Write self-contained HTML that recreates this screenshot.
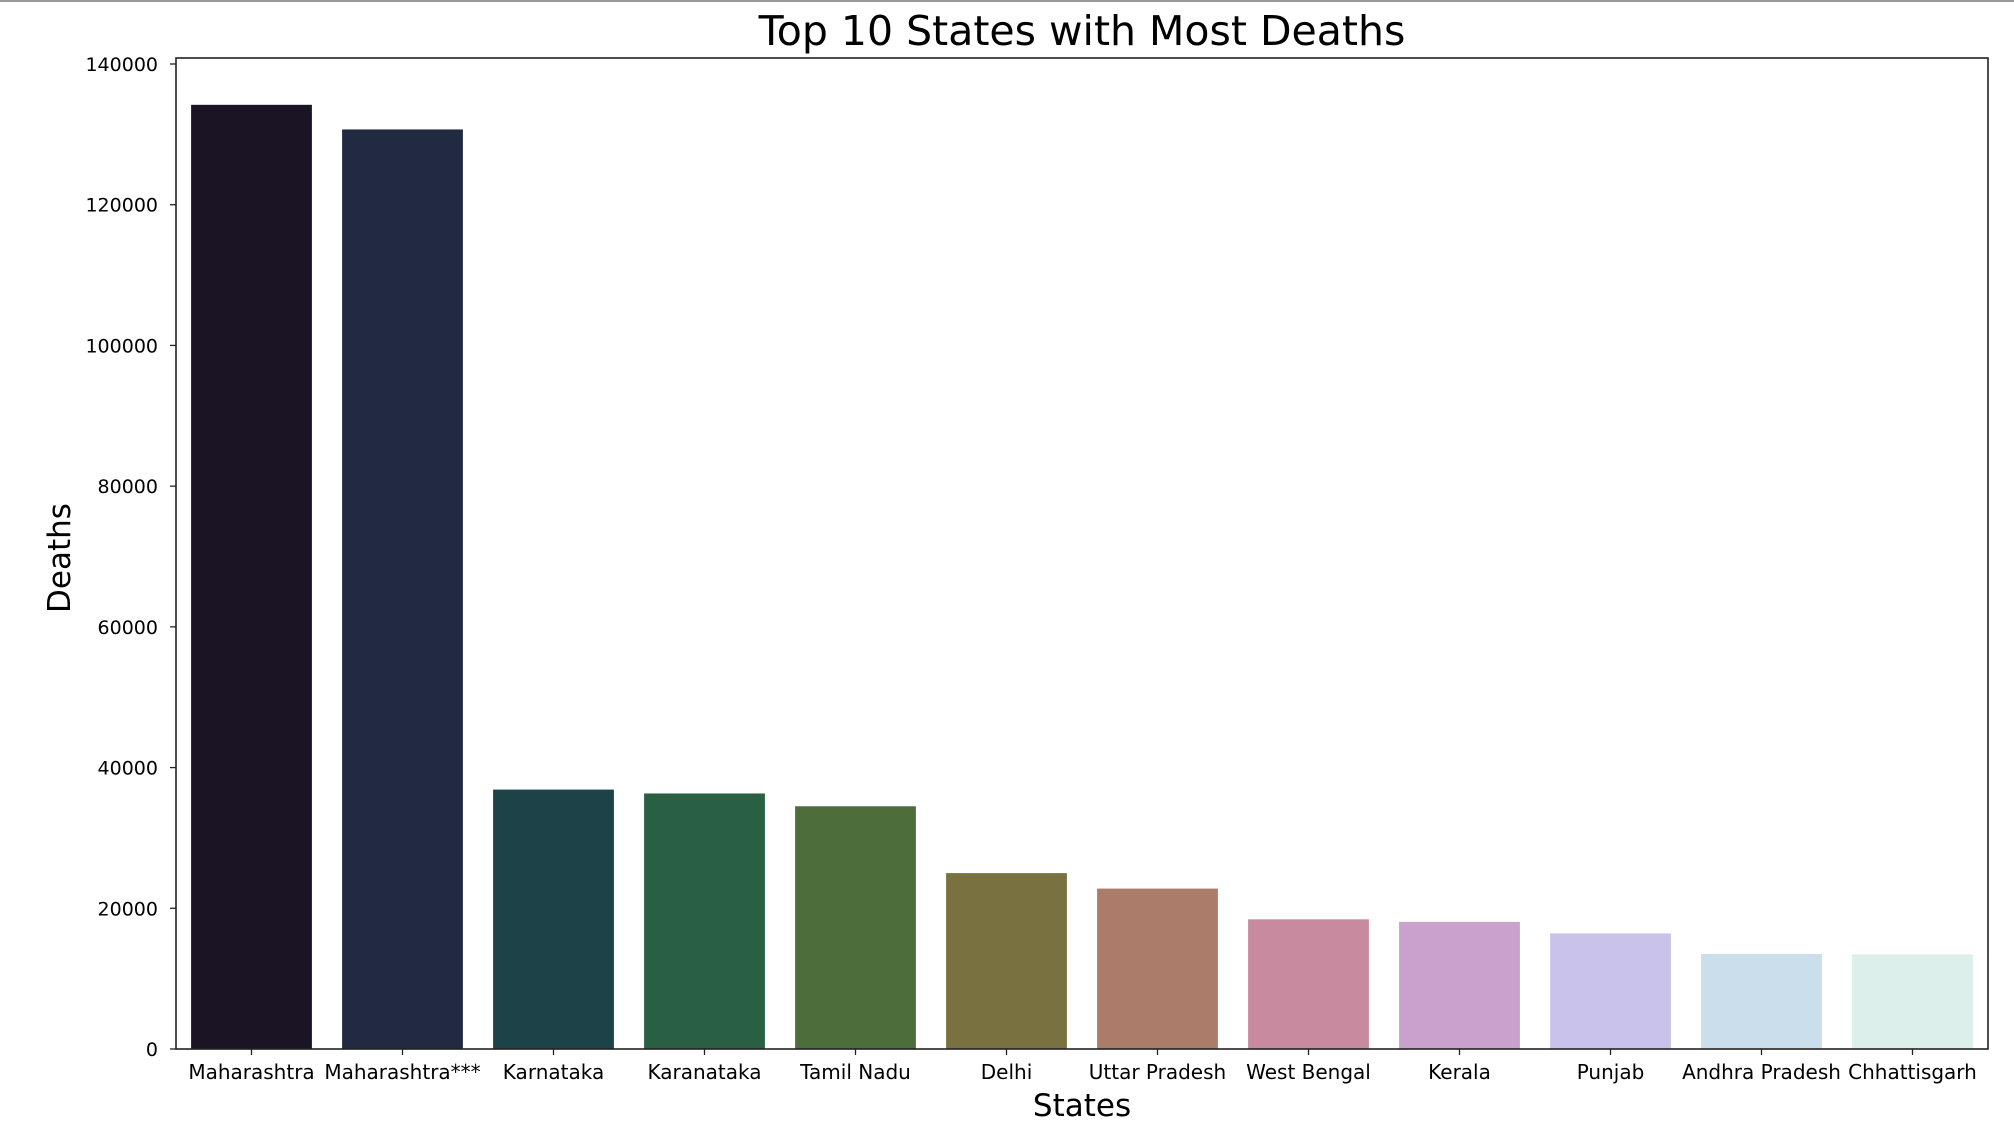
<!DOCTYPE html>
<html><head><meta charset="utf-8"><style>
html,body{margin:0;padding:0;background:#fff;}
svg text{font-family:"DejaVu Sans","Liberation Sans",sans-serif;fill:#000;}
</style></head><body>
<svg id="chart" width="2014" height="1142" viewBox="0 0 2014 1142" xmlns="http://www.w3.org/2000/svg">
<rect x="0" y="0" width="2014" height="2" fill="#999"/>
<text x="1082" y="45" font-size="41" text-anchor="middle">Top 10 States with Most Deaths</text>
<g id="bars"></g>
<g id="yaxis"></g>
<g id="xaxis"></g>
<rect x="176" y="58" width="1812" height="991" fill="none" stroke="#222" stroke-width="1.6"/>
<text x="1082" y="1116" font-size="31" text-anchor="middle">States</text>
<text x="0" y="0" font-size="31" text-anchor="middle" transform="translate(70,558) rotate(-90)">Deaths</text>
</svg>
<script>
const categories = ["Maharashtra","Maharashtra***","Karnataka","Karanataka","Tamil Nadu","Delhi","Uttar Pradesh","West Bengal","Kerala","Punjab","Andhra Pradesh","Chhattisgarh"];
const deaths = [134200,130700,36870,36320,34500,25000,22800,18430,18070,16430,13500,13450];
const colors = ["#1b1424","#212a40","#1d4348","#295f43","#4d6e3a","#7a7140","#ab7c6a","#c88a9e","#c9a1cc","#c9c2ea","#cbdeeb","#ddefea"];
const yTicks = [0,20000,40000,60000,80000,100000,120000,140000];
const yTickLabels = ["0","20000","40000","60000","80000","100000","120000","140000"];

const L=176,R=1988,T=58,B=1049,yMax=140000,yTop=64;
const NS="http://www.w3.org/2000/svg";
function y(v){return B-(B-yTop)*v/yMax;}
const band=(R-L)/categories.length;
function xc(i){return L+band*(i+0.5);}
const gb=document.getElementById('bars'),gx=document.getElementById('xaxis'),gy=document.getElementById('yaxis');
categories.forEach((c,i)=>{
  const r=document.createElementNS(NS,'rect');
  r.setAttribute('x',xc(i)-band*0.4);r.setAttribute('width',band*0.8);
  r.setAttribute('y',y(deaths[i]));r.setAttribute('height',B-y(deaths[i]));
  r.setAttribute('fill',colors[i]);
  
  
  gb.appendChild(r);
  const t=document.createElementNS(NS,'line');
  t.setAttribute('x1',xc(i));t.setAttribute('x2',xc(i));t.setAttribute('y1',B);t.setAttribute('y2',B+6);
  t.setAttribute('stroke','#222');t.setAttribute('stroke-width','1.3');
  
  
  gx.appendChild(t);
  const tx=document.createElementNS(NS,'text');
  tx.setAttribute('x',xc(i));tx.setAttribute('y',B+30);tx.setAttribute('font-size','20');tx.setAttribute('text-anchor','middle');
  tx.textContent=c;
  
  
  gx.appendChild(tx);
});
yTicks.forEach((v,i)=>{
  const t=document.createElementNS(NS,'line');
  t.setAttribute('x1',L-6);t.setAttribute('x2',L);t.setAttribute('y1',y(v));t.setAttribute('y2',y(v));
  t.setAttribute('stroke','#222');t.setAttribute('stroke-width','1.3');
  
  
  gy.appendChild(t);
  const tx=document.createElementNS(NS,'text');
  tx.setAttribute('x',L-18);tx.setAttribute('y',y(v)+7);tx.setAttribute('font-size','19');tx.setAttribute('text-anchor','end');
  tx.textContent=yTickLabels[i];
  
  
  gy.appendChild(tx);
});
</script>
</body></html>
